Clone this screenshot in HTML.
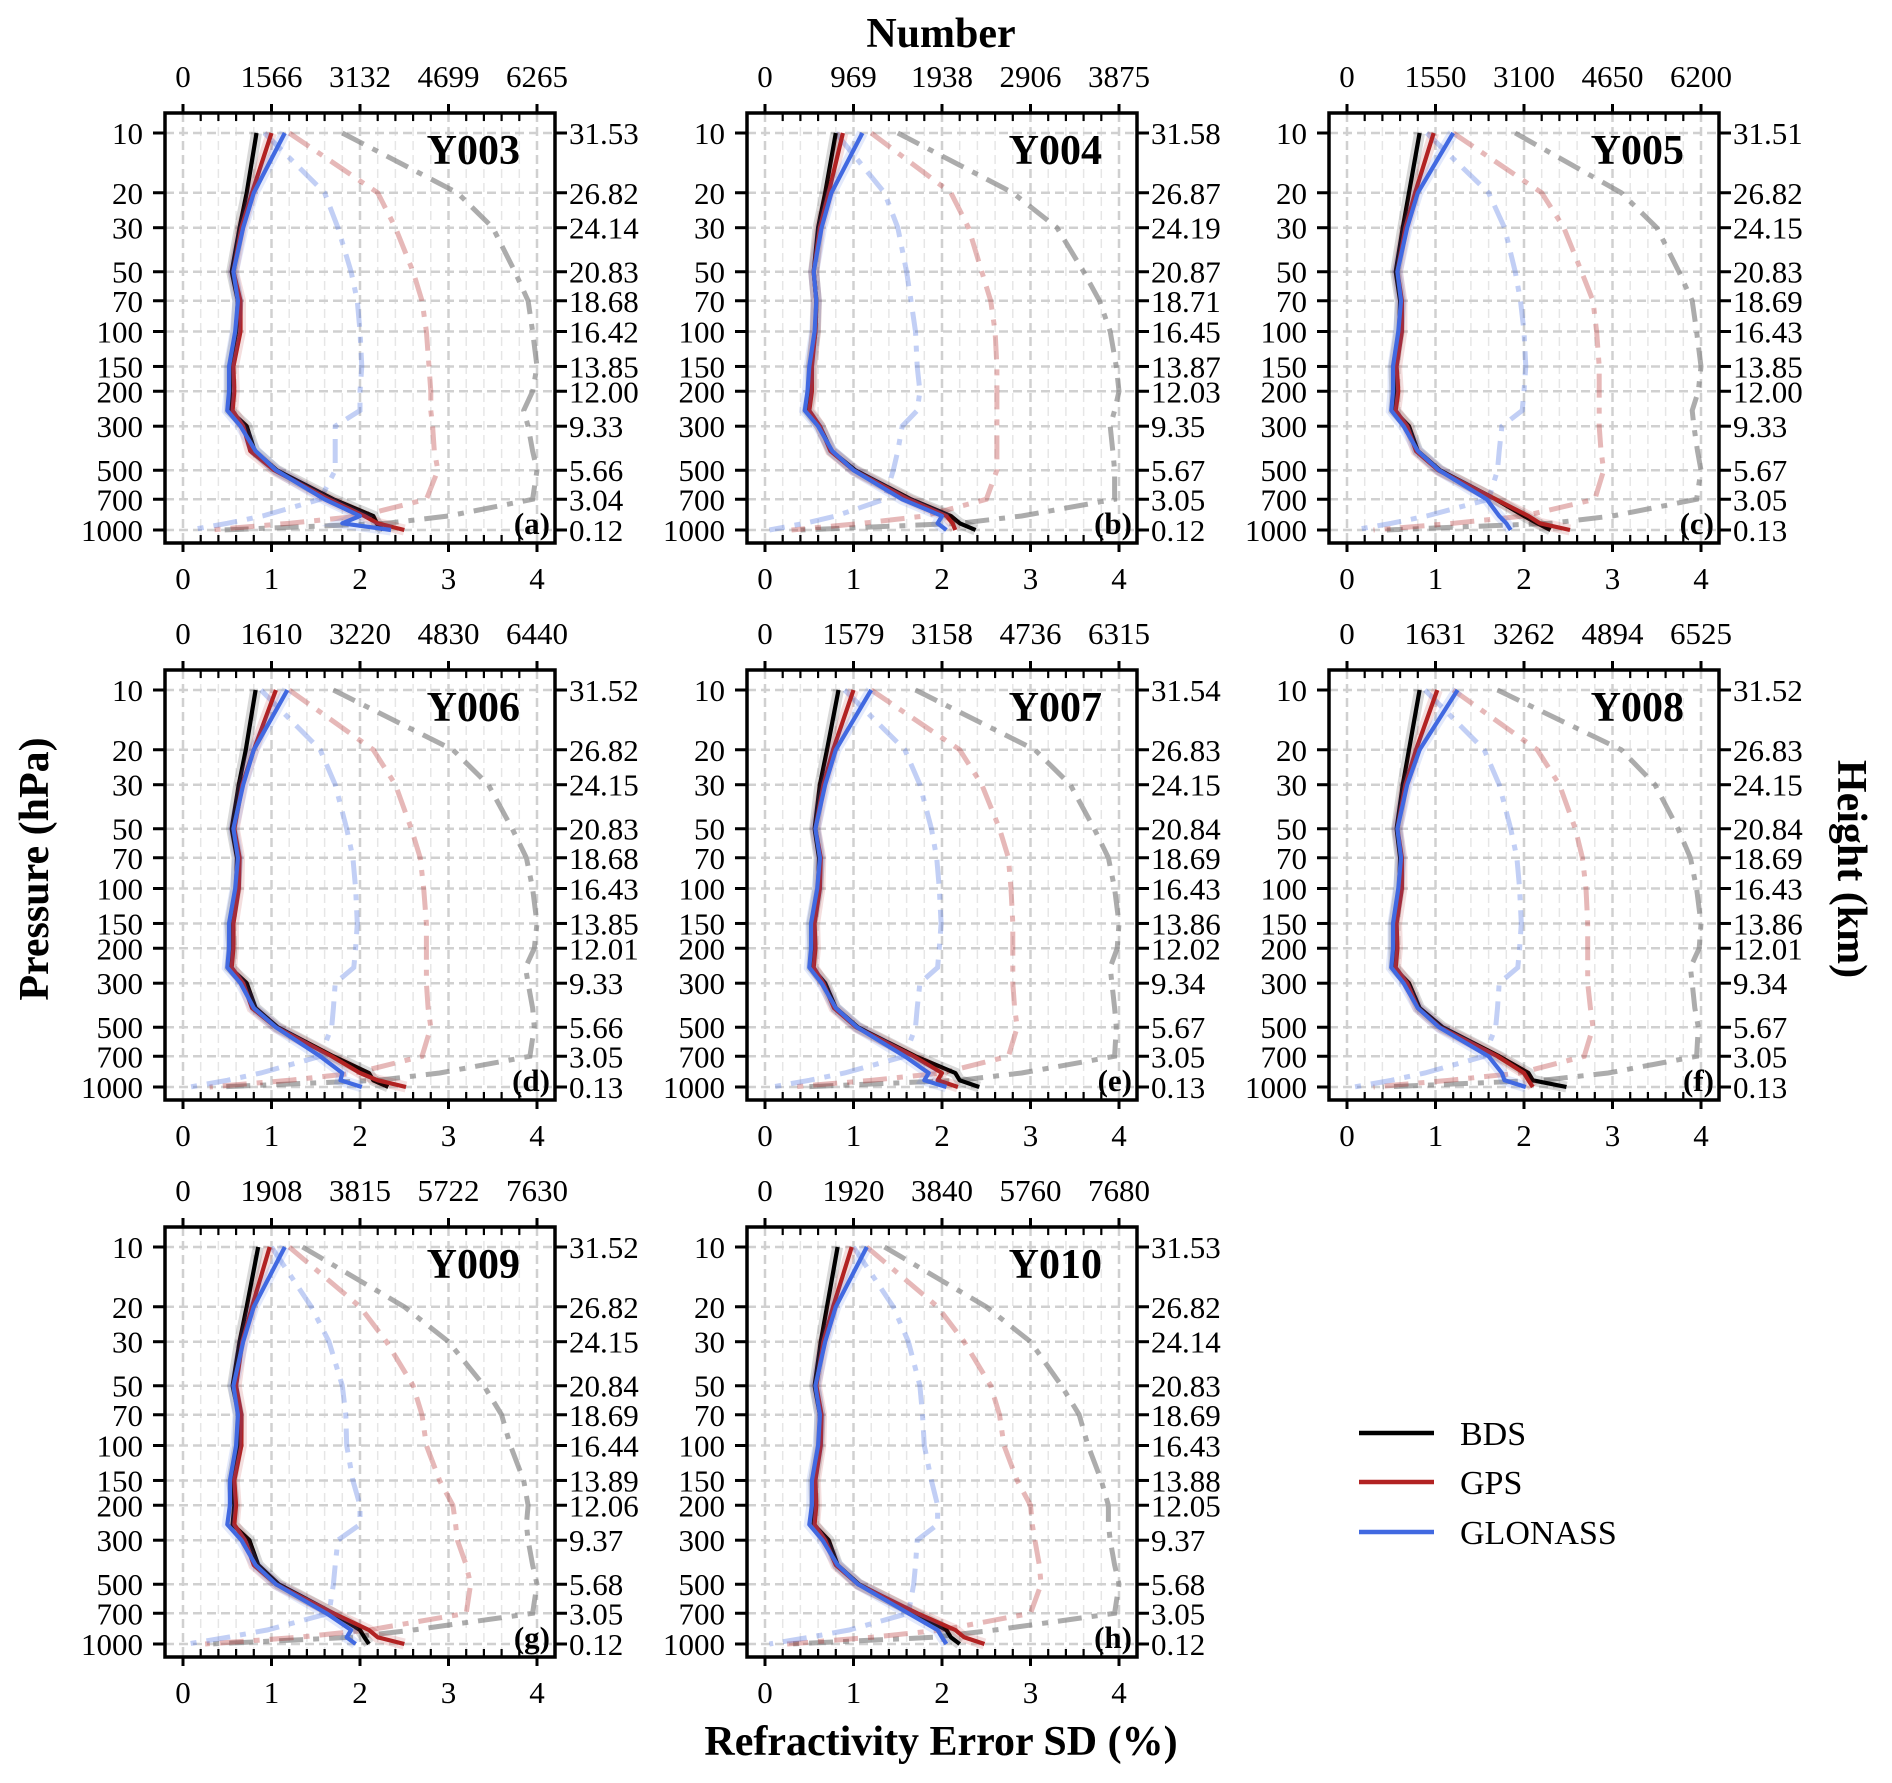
<!DOCTYPE html>
<html><head><meta charset="utf-8"><style>
body{margin:0;background:#fff}
svg{display:block;font-family:"Liberation Serif",serif}
</style></head><body>
<svg id="fig" width="1892" height="1783" viewBox="0 0 1892 1783" xmlns="http://www.w3.org/2000/svg">
<text x="941" y="47" font-size="42" font-weight="bold" text-anchor="middle">Number</text>
<text x="941" y="1755" font-size="42" font-weight="bold" text-anchor="middle">Refractivity Error SD (%)</text>
<text transform="translate(48,869) rotate(-90)" font-size="42" font-weight="bold" text-anchor="middle">Pressure (hPa)</text>
<text transform="translate(1838,869) rotate(90)" font-size="42" font-weight="bold" text-anchor="middle">Height (km)</text>
<g>
<line x1="1359" y1="1433" x2="1434" y2="1433" stroke="#000" stroke-width="4.5"/>
<text x="1460" y="1445" font-size="34">BDS</text>
<line x1="1359" y1="1482" x2="1434" y2="1482" stroke="#b22222" stroke-width="4.5"/>
<text x="1460" y="1494" font-size="34">GPS</text>
<line x1="1359" y1="1532" x2="1434" y2="1532" stroke="#4169e1" stroke-width="4.5"/>
<text x="1460" y="1544" font-size="34">GLONASS</text>
</g>
</svg>
<script>
const pressureTicks=[10,20,30,50,70,100,150,200,300,500,700,1000];
const levels=[10,20,30,50,70,100,150,200,250,300,400,500,700,850,925,1000];
const xTicks=[0,1,2,3,4];
const panelNames=["Y003","Y004","Y005","Y006","Y007","Y008","Y009","Y010"];
const panelLetters=["(a)","(b)","(c)","(d)","(e)","(f)","(g)","(h)"];
const numberTicks=[
[0,1566,3132,4699,6265],[0,969,1938,2906,3875],[0,1550,3100,4650,6200],[0,1610,3220,4830,6440],
[0,1579,3158,4736,6315],[0,1631,3262,4894,6525],[0,1908,3815,5722,7630],[0,1920,3840,5760,7680]];
const heightTicks=[
["31.53","26.82","24.14","20.83","18.68","16.42","13.85","12.00","9.33","5.66","3.04","0.12"],
["31.58","26.87","24.19","20.87","18.71","16.45","13.87","12.03","9.35","5.67","3.05","0.12"],
["31.51","26.82","24.15","20.83","18.69","16.43","13.85","12.00","9.33","5.67","3.05","0.13"],
["31.52","26.82","24.15","20.83","18.68","16.43","13.85","12.01","9.33","5.66","3.05","0.13"],
["31.54","26.83","24.15","20.84","18.69","16.43","13.86","12.02","9.34","5.67","3.05","0.13"],
["31.52","26.83","24.15","20.84","18.69","16.43","13.86","12.01","9.34","5.67","3.05","0.13"],
["31.52","26.82","24.15","20.84","18.69","16.44","13.89","12.06","9.37","5.68","3.05","0.12"],
["31.53","26.82","24.14","20.83","18.69","16.43","13.88","12.05","9.37","5.68","3.05","0.12"]];
// SD (%) per panel
const bdsSD=[
[0.83,0.72,0.64,0.55,0.62,0.60,0.53,0.53,0.53,0.72,0.81,1.06,1.70,2.15,2.19,2.26],
[0.80,0.68,0.60,0.55,0.58,0.57,0.52,0.52,0.48,0.62,0.75,1.02,1.65,2.10,2.20,2.38],
[0.82,0.70,0.63,0.55,0.60,0.59,0.53,0.54,0.53,0.70,0.80,1.05,1.68,2.00,2.15,2.30],
[0.82,0.71,0.63,0.55,0.61,0.60,0.53,0.55,0.53,0.72,0.82,1.07,1.70,2.10,2.15,2.32],
[0.83,0.70,0.62,0.56,0.61,0.60,0.53,0.54,0.53,0.68,0.80,1.05,1.70,2.15,2.20,2.42],
[0.82,0.70,0.63,0.56,0.60,0.59,0.53,0.53,0.53,0.70,0.82,1.08,1.72,2.05,2.10,2.48],
[0.85,0.72,0.64,0.56,0.63,0.62,0.55,0.58,0.56,0.75,0.85,1.08,1.70,2.00,2.05,2.10],
[0.82,0.70,0.63,0.56,0.62,0.61,0.55,0.56,0.55,0.72,0.82,1.06,1.70,2.05,2.10,2.20]];
const gpsSD=[
[1.00,0.78,0.66,0.57,0.65,0.65,0.57,0.58,0.56,0.68,0.76,1.03,1.65,2.05,2.20,2.50],
[0.88,0.72,0.62,0.55,0.58,0.57,0.53,0.53,0.50,0.62,0.74,1.00,1.62,2.05,2.12,2.15],
[0.98,0.77,0.66,0.57,0.62,0.62,0.56,0.58,0.55,0.68,0.78,1.03,1.68,2.05,2.18,2.52],
[1.05,0.80,0.67,0.58,0.64,0.63,0.57,0.57,0.55,0.68,0.78,1.05,1.68,2.00,2.20,2.52],
[1.00,0.77,0.66,0.57,0.63,0.62,0.56,0.57,0.55,0.66,0.78,1.03,1.68,2.00,1.95,2.18],
[1.02,0.78,0.66,0.57,0.62,0.62,0.56,0.57,0.55,0.68,0.80,1.05,1.70,2.00,2.05,2.10],
[0.98,0.78,0.67,0.60,0.66,0.66,0.58,0.60,0.58,0.70,0.80,1.05,1.70,2.10,2.20,2.50],
[0.98,0.77,0.66,0.58,0.64,0.63,0.57,0.58,0.56,0.68,0.80,1.05,1.72,2.15,2.25,2.48]];
const gloSD=[
[1.15,0.80,0.68,0.57,0.62,0.59,0.52,0.52,0.50,0.65,0.82,1.05,1.60,2.00,1.80,2.35],
[1.10,0.75,0.64,0.55,0.58,0.56,0.50,0.48,0.45,0.60,0.76,1.00,1.55,2.00,1.95,2.05],
[1.20,0.80,0.68,0.57,0.61,0.58,0.52,0.52,0.50,0.64,0.80,1.04,1.58,1.72,1.80,1.85],
[1.18,0.80,0.68,0.57,0.62,0.59,0.52,0.52,0.50,0.65,0.80,1.05,1.55,1.80,1.78,2.02],
[1.20,0.80,0.68,0.57,0.62,0.59,0.52,0.52,0.50,0.64,0.80,1.04,1.58,1.85,1.80,2.05],
[1.25,0.82,0.68,0.57,0.61,0.58,0.52,0.52,0.50,0.64,0.80,1.04,1.60,1.75,1.78,2.02],
[1.15,0.80,0.68,0.57,0.62,0.60,0.53,0.53,0.50,0.66,0.82,1.05,1.62,1.90,1.85,1.95],
[1.15,0.80,0.68,0.57,0.62,0.60,0.53,0.53,0.50,0.65,0.82,1.05,1.62,1.95,2.00,2.05]];
// sample numbers per panel (read in units of the top axis, converted by numberTicks max)
const bdsNum=[
[1.80,3.10,3.50,3.75,3.90,3.95,4.00,3.95,3.85,3.90,3.95,4.00,3.95,3.00,2.30,0.45],
[1.50,2.80,3.30,3.60,3.78,3.90,3.97,4.00,3.95,3.90,3.93,3.95,3.95,2.90,2.20,0.40],
[1.90,3.10,3.50,3.75,3.90,3.95,4.00,3.97,3.90,3.92,3.96,4.00,3.95,3.00,2.30,0.45],
[1.70,3.05,3.45,3.72,3.88,3.95,4.00,3.97,3.87,3.90,3.95,3.97,3.92,2.90,2.20,0.40],
[1.70,3.05,3.45,3.72,3.88,3.95,4.00,3.98,3.90,3.92,3.95,3.97,3.95,2.90,2.20,0.40],
[1.70,3.10,3.48,3.74,3.88,3.95,4.00,3.98,3.88,3.90,3.93,3.97,3.95,2.95,2.20,0.40],
[1.35,2.50,3.00,3.40,3.60,3.70,3.85,3.90,3.88,3.90,3.95,4.00,3.95,2.60,1.90,0.30],
[1.35,2.50,3.00,3.35,3.55,3.65,3.80,3.88,3.88,3.90,3.95,4.00,3.95,2.60,1.90,0.30]];
const gpsNum=[
[1.20,2.20,2.40,2.60,2.70,2.75,2.78,2.80,2.80,2.82,2.84,2.88,2.75,2.00,1.20,0.30],
[1.20,2.10,2.30,2.45,2.55,2.60,2.62,2.62,2.62,2.62,2.62,2.62,2.50,1.80,1.10,0.30],
[1.20,2.20,2.45,2.65,2.78,2.82,2.85,2.85,2.85,2.85,2.87,2.90,2.80,2.00,1.20,0.30],
[1.20,2.15,2.40,2.58,2.68,2.72,2.75,2.75,2.75,2.75,2.77,2.80,2.70,1.95,1.20,0.30],
[1.20,2.20,2.45,2.65,2.75,2.78,2.80,2.80,2.80,2.80,2.82,2.85,2.75,2.00,1.20,0.30],
[1.20,2.15,2.40,2.58,2.66,2.70,2.72,2.72,2.72,2.72,2.75,2.78,2.68,1.95,1.15,0.30],
[1.20,2.00,2.30,2.60,2.70,2.75,2.90,3.05,3.08,3.10,3.20,3.25,3.20,2.10,1.30,0.25],
[1.15,1.95,2.25,2.55,2.65,2.70,2.85,3.00,3.02,3.05,3.10,3.12,3.00,2.00,1.20,0.25]];
const gloNum=[
[0.92,1.60,1.75,1.90,1.97,2.00,2.02,2.00,2.00,1.72,1.72,1.72,1.55,0.90,0.50,0.08],
[0.80,1.35,1.50,1.60,1.65,1.70,1.72,1.75,1.72,1.55,1.50,1.45,1.35,0.80,0.45,0.05],
[0.90,1.60,1.78,1.90,1.96,2.00,2.02,2.00,1.98,1.75,1.72,1.70,1.60,0.90,0.50,0.08],
[0.88,1.55,1.72,1.85,1.92,1.95,1.97,1.95,1.93,1.72,1.70,1.68,1.55,0.88,0.50,0.08],
[0.90,1.58,1.75,1.88,1.94,1.97,1.99,1.97,1.95,1.75,1.72,1.70,1.58,0.90,0.50,0.08],
[0.88,1.55,1.72,1.85,1.92,1.95,1.97,1.95,1.93,1.72,1.70,1.68,1.55,0.88,0.50,0.08],
[1.00,1.45,1.65,1.80,1.84,1.85,1.92,2.00,2.00,1.75,1.72,1.70,1.65,0.95,0.50,0.05],
[1.00,1.45,1.62,1.75,1.78,1.80,1.88,1.95,1.95,1.72,1.70,1.68,1.62,0.95,0.50,0.05]];

const NS="http://www.w3.org/2000/svg";
const svg=document.getElementById('fig');
function mk(tag,attrs,parent){const e=document.createElementNS(NS,tag);for(const k in attrs)e.setAttribute(k,attrs[k]);(parent||svg).appendChild(e);return e;}

for(let p=0;p<8;p++){
  const col=p%3,row=Math.floor(p/3);
  const L=165+582*col,T=113+557*row,W=390,H=430;
  const x0=L+18,unit=88.5;
  const xs=v=>x0+v*unit;
  const ys=pr=>T+20+198.5*Math.log10(pr/10);
  const numMax=numberTicks[p][4];
  const xn=n=>xs(n/numMax*4);
  const g=mk('g',{});
  
  
  for(let i=0;i<=20;i++){
    const v=i*0.2,x=xs(v);
    const gl=mk('line',{x1:x,x2:x,y1:T,y2:T+H,stroke:i%5==0?'#d0d0d0':'#e6e6e6','stroke-width':i%5==0?2.5:1.5,'stroke-dasharray':'9,5'},g);
    
    
  }
  pressureTicks.forEach(pr=>{
    const y=ys(pr);
    const gl=mk('line',{x1:L,x2:L+W,y1:y,y2:y,stroke:'#d0d0d0','stroke-width':2.5,'stroke-dasharray':'9,5'},g);
    
    
  });
  const numSeries=[[bdsNum[p],'rgba(128,128,128,0.65)','bds-number-line'],[gpsNum[p],'rgba(178,34,34,0.32)','gps-number-line'],[gloNum[p],'rgba(65,105,225,0.32)','glonass-number-line']];
  numSeries.forEach(([arr,c,nm])=>{
    const pts=arr.map((u,i)=>xn(u*numMax/4).toFixed(1)+','+ys(levels[i]).toFixed(1)).join(' ');
    const pl=mk('polyline',{points:pts,fill:'none',stroke:c,'stroke-width':5,'stroke-dasharray':'24,10,6,10'},g);
    
    
  });
  const sdSeries=[[bdsSD[p],'#000','bds-sd-line'],[gpsSD[p],'#b22222','gps-sd-line'],[gloSD[p],'#4169e1','glonass-sd-line']];
  sdSeries.forEach(([arr,c,nm])=>{
    const pts=arr.map((v,i)=>xs(v).toFixed(1)+','+ys(levels[i]).toFixed(1)).join(' ');
    const band=mk('polyline',{points:pts,fill:'none',stroke:c,'stroke-opacity':0.15,'stroke-width':11},g);
    
    
    const pl=mk('polyline',{points:pts,fill:'none',stroke:c,'stroke-width':4.2,'stroke-linejoin':'round'},g);
    
    
  });
  const fr=mk('rect',{x:L,y:T,width:W,height:H,fill:'none',stroke:'#000','stroke-width':3.5},g);
  
  
  for(let i=0;i<=20;i++){
    const x=xs(i*0.2),maj=i%5==0;
    if(maj){
      mk('line',{x1:x,x2:x,y1:T-9,y2:T,stroke:'#000','stroke-width':3},g);
      mk('line',{x1:x,x2:x,y1:T+H,y2:T+H+9,stroke:'#000','stroke-width':3},g);
    }else{
      mk('line',{x1:x,x2:x,y1:T,y2:T+8,stroke:'#000','stroke-width':2.2},g);
      mk('line',{x1:x,x2:x,y1:T+H-8,y2:T+H,stroke:'#000','stroke-width':2.2},g);
    }
  }
  xTicks.forEach((v,i)=>{
    const b=mk('text',{x:xs(v),y:T+H+46,'font-size':31,'text-anchor':'middle'},g);
    b.textContent=v;
    
    
    const t=mk('text',{x:xs(v),y:T-26,'font-size':31,'text-anchor':'middle'},g);
    t.textContent=numberTicks[p][i];
    
    
  });
  pressureTicks.forEach((pr,i)=>{
    const y=ys(pr);
    mk('line',{x1:L-12,x2:L,y1:y,y2:y,stroke:'#000','stroke-width':3},g);
    mk('line',{x1:L+W,x2:L+W+12,y1:y,y2:y,stroke:'#000','stroke-width':3},g);
    const lt=mk('text',{x:L-22,y:y+11,'font-size':31,'text-anchor':'end'},g);
    lt.textContent=pr;
    
    
    const rt=mk('text',{x:L+W+14,y:y+11,'font-size':31},g);
    rt.textContent=heightTicks[p][i];
    
    
  });
  const ti=mk('text',{x:L+W-35,y:T+51,'font-size':42,'font-weight':'bold','text-anchor':'end'},g);
  ti.textContent=panelNames[p];
  
  
  const lt=mk('text',{x:L+W-5,y:T+H-9,'font-size':31,'font-weight':'bold','text-anchor':'end'},g);
  lt.textContent=panelLetters[p];
  
  
}
</script>
</body></html>
